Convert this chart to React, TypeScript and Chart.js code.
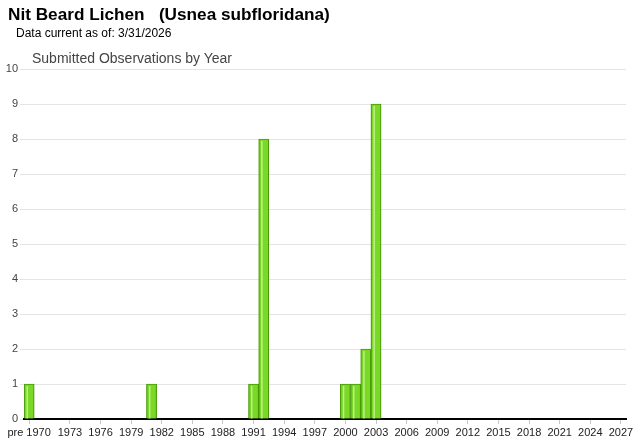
import React, { useEffect, useRef } from 'react';
import { Chart, registerables } from 'chart.js';

Chart.register(...registerables);

const categories: string[] = [
  'pre 1970',
  '1970', '1971', '1972', '1973', '1974', '1975', '1976', '1977', '1978', '1979',
  '1980', '1981', '1982', '1983', '1984', '1985', '1986', '1987', '1988', '1989',
  '1990', '1991', '1992', '1993', '1994', '1995', '1996', '1997', '1998', '1999',
  '2000', '2001', '2002', '2003', '2004', '2005', '2006', '2007', '2008', '2009',
  '2010', '2011', '2012', '2013', '2014', '2015', '2016', '2017', '2018', '2019',
  '2020', '2021', '2022', '2023', '2024', '2025', '2026', '2027',
];

const observations: number[] = [
  1,
  0, 0, 0, 0, 0, 0, 0, 0, 0, 0,
  0, 1, 0, 0, 0, 0, 0, 0, 0, 0,
  0, 1, 8, 0, 0, 0, 0, 0, 0, 0,
  1, 1, 2, 9, 0, 0, 0, 0, 0, 0,
  0, 0, 0, 0, 0, 0, 0, 0, 0, 0,
  0, 0, 0, 0, 0, 0, 0, 0,
];

const yTicks: number[] = [0, 1, 2, 3, 4, 5, 6, 7, 8, 9, 10];

const titleText = 'Nit Beard Lichen   (Usnea subfloridana)';
const subtitleText = 'Data current as of: 3/31/2026';
const chartTitleText = 'Submitted Observations by Year';

const shownLabel = (i: number) => i === 0 || (i >= 4 && (i - 1) % 3 === 0);

const highlightPlugin = {
  id: 'barHighlight',
  afterDatasetsDraw(chart: any) {
    const ctx = chart.ctx;
    const meta = chart.getDatasetMeta(0);
    ctx.save();
    meta.data.forEach((bar: any, i: number) => {
      if (!observations[i]) return;
      const { x, y, base, width } = bar.getProps(['x', 'y', 'base', 'width'], true);
      const left = x - width / 2;
      ctx.fillStyle = 'rgba(200,245,150,0.85)';
      ctx.fillRect(left + 2.5, y + 2, 1.5, base - y - 2);
    });
    ctx.restore();
  },
};

export default function App() {
  const canvasRef = useRef<HTMLCanvasElement | null>(null);

  useEffect(() => {
    if (!canvasRef.current) return;
    const chart = new Chart(canvasRef.current, {
      type: 'bar',
      data: {
        labels: categories,
        datasets: [
          {
            data: observations,
            backgroundColor: '#7ad826',
            borderColor: '#4a9a0a',
            borderWidth: 1.2,
            borderSkipped: 'bottom',
            barPercentage: 1,
            categoryPercentage: 1,
          },
        ],
      },
      options: {
        responsive: false,
        animation: false,
        devicePixelRatio: 1,
        layout: { padding: { top: 69, right: 14, bottom: 0, left: 0 } },
        plugins: {
          legend: { display: false },
          title: { display: false },
          tooltip: { enabled: false },
        },
        scales: {
          x: {
            type: 'category',
            offset: true,
            grid: {
              display: true,
              offset: false,
              drawOnChartArea: false,
              drawTicks: true,
              tickLength: 5,
              color: 'rgba(0,0,0,0)',
              tickColor: (c: any) => (shownLabel(c.index) ? '#c8c8c8' : 'rgba(0,0,0,0)'),
            },
            border: { display: true, color: '#000000', width: 2 },
            ticks: {
              autoSkip: false,
              maxRotation: 0,
              minRotation: 0,
              padding: 2,
              color: '#222222',
              font: { family: 'Arial, "Liberation Sans", sans-serif', size: 11 },
              callback: (_v: any, i: number) => (shownLabel(i) ? categories[i] : ''),
            },
            afterFit: (s: any) => {
              s.height = 23;
            },
          },
          y: {
            min: yTicks[0],
            max: yTicks[yTicks.length - 1],
            afterBuildTicks: (s: any) => {
              s.ticks = yTicks.map((v) => ({ value: v }));
            },
            grid: {
              color: '#e4e4e4',
              drawTicks: true,
              tickLength: 4,
              lineWidth: 1,
            },
            border: { display: false },
            ticks: {
              padding: 2,
              color: '#444444',
              font: { family: 'Arial, "Liberation Sans", sans-serif', size: 11 },
            },
            afterFit: (s: any) => {
              s.width = 24;
            },
          },
        },
      },
      plugins: [highlightPlugin],
    });
    return () => chart.destroy();
  }, []);

  return (
    <div
      style={{
        position: 'fixed',
        left: 0,
        top: 0,
        width: 640,
        height: 442,
        background: '#ffffff',
        overflow: 'hidden',
        fontFamily: 'Arial, "Liberation Sans", sans-serif',
      }}
    >
      <canvas
        ref={canvasRef}
        width={640}
        height={442}
        style={{ position: 'absolute', left: 0, top: 0, width: 640, height: 442 }}
      />
      <div
        style={{
          position: 'absolute',
          left: 8,
          top: 6,
          fontSize: 17.2,
          lineHeight: '17px',
          fontWeight: 'bold',
          color: '#000',
          whiteSpace: 'pre',
        }}
      >
        {titleText}
      </div>
      <div
        style={{
          position: 'absolute',
          left: 16,
          top: 27,
          fontSize: 12,
          lineHeight: '12px',
          color: '#000',
          whiteSpace: 'pre',
        }}
      >
        {subtitleText}
      </div>
      <div
        style={{
          position: 'absolute',
          left: 32,
          top: 51,
          fontSize: 14,
          lineHeight: '14px',
          color: '#444',
          whiteSpace: 'pre',
        }}
      >
        {chartTitleText}
      </div>
    </div>
  );
}
